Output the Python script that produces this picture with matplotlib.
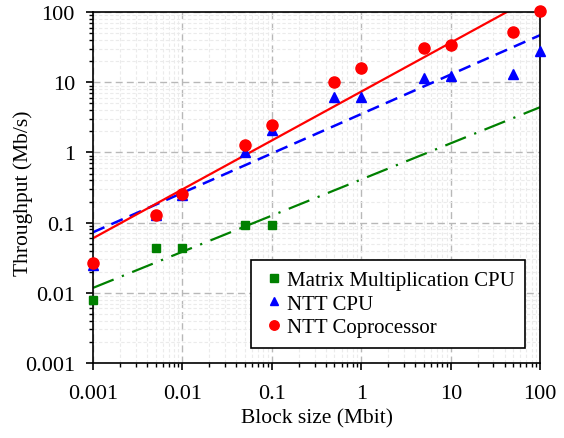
import numpy as np
import matplotlib
matplotlib.use("Agg")
import matplotlib.pyplot as plt
from matplotlib.ticker import LogLocator, FixedLocator, NullFormatter

plt.rcParams['font.family'] = ['Liberation Serif', 'DejaVu Serif']

# Block sizes (Mbit)
block_mm = [0.001, 0.005, 0.01, 0.05, 0.1]
block_ntt = [0.001, 0.005, 0.01, 0.05, 0.1, 0.5, 1, 5, 10, 50, 100]

# Throughput (Mb/s)
mm_cpu = [0.0079, 0.044, 0.044, 0.094, 0.094]
ntt_cpu = [0.025, 0.13, 0.25, 1.03, 2.06, 6.1, 6.1, 11.4, 12.2, 13.0, 27.7]
ntt_cop = [0.027, 0.13, 0.26, 1.26, 2.5, 10.0, 15.8, 30.6, 34.0, 53.0, 104.0]

fig = plt.figure(figsize=(5.64, 4.39), dpi=100)
ax = fig.add_axes([0.1649, 0.171, 0.793, 0.799])

# power-law trendlines fitted in log-log space
xx = np.logspace(-3, 2, 200)
def trend(x, y):
    k, b = np.polyfit(np.log10(x), np.log10(y), 1)
    return 10 ** (b + k * np.log10(xx))

ax.plot(xx, trend(block_mm, mm_cpu), color='green', lw=1.6, ls=(0, (10, 4, 1, 4)))
ax.plot(xx, trend(block_ntt, ntt_cpu), color='blue', lw=1.8, ls=(0, (5, 3)))
ax.plot(xx, trend(block_ntt, ntt_cop), color='red', lw=1.6, ls='-')

ax.plot(block_mm, mm_cpu, 's', color='green', ms=6, label='Matrix Multiplication CPU', clip_on=False, zorder=5)
ax.plot(block_ntt, ntt_cpu, '^', color='blue', ms=7.5, label='NTT CPU', clip_on=False, zorder=5)
ax.plot(block_ntt, ntt_cop, 'o', color='red', ms=8, label='NTT Coprocessor', clip_on=False, zorder=6)

ax.set_xscale('log')
ax.set_yscale('log')
ax.set_xlim(0.001, 100)
ax.set_ylim(0.001, 100)

xt = [0.001, 0.01, 0.1, 1, 10, 100]
yt = [0.001, 0.01, 0.1, 1, 10, 100]
ax.xaxis.set_major_locator(FixedLocator(xt))
ax.yaxis.set_major_locator(FixedLocator(yt))
ax.set_xticklabels(['0.001', '0.01', '0.1', '1', '10', '100'])
ax.set_yticklabels(['0.001', '0.01', '0.1', '1', '10', '100'])
ax.xaxis.set_minor_locator(LogLocator(base=10, subs=np.arange(2, 10), numticks=20))
ax.yaxis.set_minor_locator(LogLocator(base=10, subs=np.arange(2, 10), numticks=20))
ax.xaxis.set_minor_formatter(NullFormatter())
ax.yaxis.set_minor_formatter(NullFormatter())

ax.tick_params(which='major', direction='out', length=5, width=1.2, labelsize=16)
ax.tick_params(axis='x', which='major', pad=10)
ax.tick_params(axis='y', which='major', pad=8)
ax.tick_params(which='minor', direction='out', length=3, width=1)
for s in ax.spines.values():
    s.set_linewidth(1.2)

ax.grid(which='major', color='#b8b8b8', ls=(0, (5, 3)), lw=1)
ax.grid(which='minor', color='#ebebeb', ls=(0, (3, 2)), lw=0.8)
ax.set_axisbelow(True)

ax.set_xlabel('Block size (Mbit)', fontsize=15.5, labelpad=4)
ax.set_ylabel('Throughput (Mb/s)', fontsize=15.5)
ax.yaxis.set_label_coords(-0.134, 0.487)

leg = ax.legend(loc='lower right', bbox_to_anchor=(0.966, 0.043), borderaxespad=0,
                fontsize=15, frameon=True, fancybox=False, edgecolor='black', framealpha=1,
                handlelength=1.2, handletextpad=0.0, borderpad=0.5, labelspacing=0.2,
                markerscale=0.85)
leg.get_frame().set_linewidth(1.2)

fig.savefig('out.png', dpi=100)
